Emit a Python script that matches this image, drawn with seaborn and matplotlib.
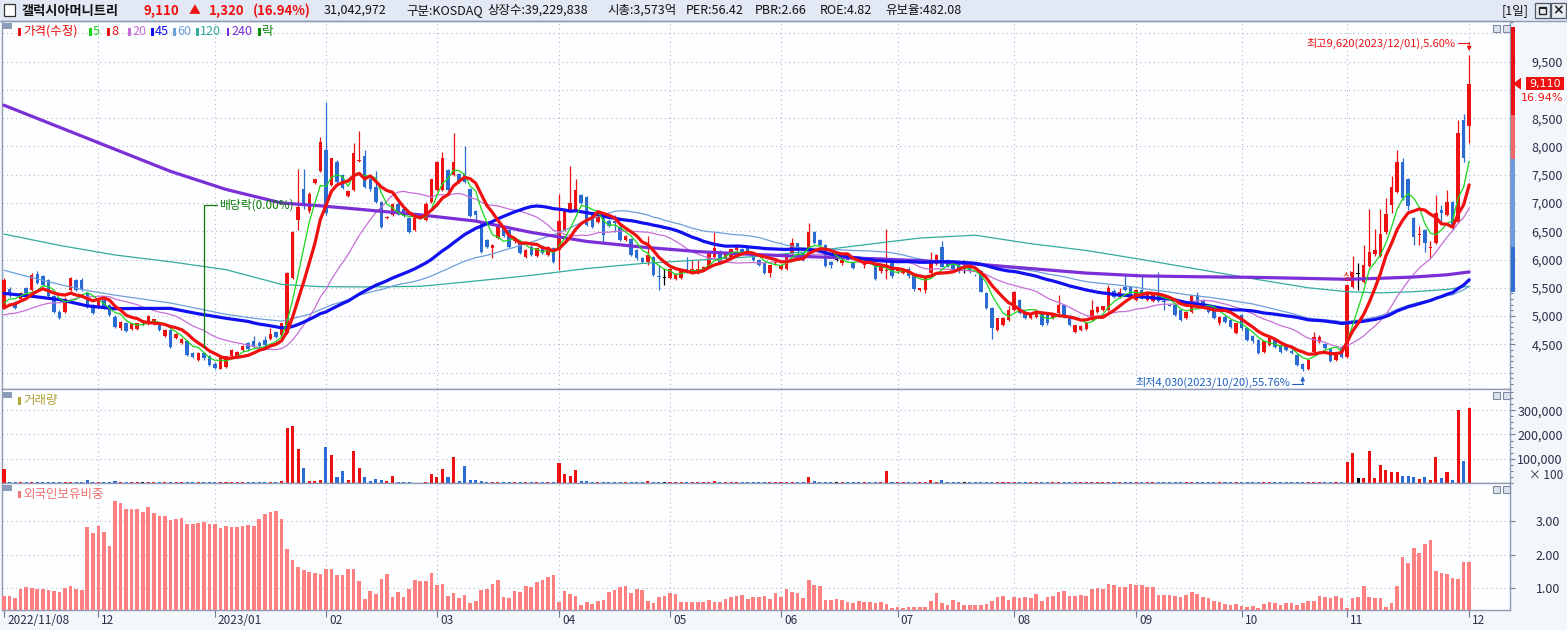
import numpy as np
import pandas as pd
import matplotlib
matplotlib.use("Agg")
import matplotlib.pyplot as plt
from matplotlib.patches import Rectangle, Polygon
from matplotlib.lines import Line2D
from matplotlib.ticker import MultipleLocator
import matplotlib.transforms as mtransforms
import seaborn as sns

# ---------------------------------------------------------------- data
month_idx = [0, 17, 38, 58, 78, 100, 120, 140, 161, 182, 204, 223, 242, 264]
month_labels = ["2022/11/08", "12", "2023/01", "02", "03", "04", "05", "06",
                "07", "08", "09", "10", "11", "12"]

opens = [
    5150, 5480, 5230, 5300, 5490, 5460, 5740, 5700, 5630, 5350,
    5080, 5080, 5460, 5640, 5640, 5400, 5200, 5170, 5280, 5200,
    4990, 4780, 4870, 4770, 4770, 4870, 4870, 4870, 4840, 4650,
    4750, 4620, 4520, 4550, 4350, 4220, 4350, 4290, 4160, 4070,
    4100, 4290, 4280, 4400, 4520, 4550, 4530, 4580, 4590, 4710,
    4660, 4700, 5670, 6700, 7240, 6850, 7360, 7560, 7940, 7320,
    7730, 7500, 7120, 7230, 7740, 7830, 7420, 7290, 7020, 6730,
    6790, 6990, 6900, 6730, 6520, 6730, 6700, 7020, 7230, 7230,
    7580, 7500, 7510, 7520, 7240, 6850, 6650, 6340, 6200, 6380,
    6590, 6520, 6320, 6320, 6050, 6230, 6070, 6240, 6080, 6200,
    6170, 6520, 6880, 6880, 7140, 7110, 6820, 6670, 6800, 6690,
    6690, 6580, 6350, 6360, 6170, 6020, 5960, 6050, 5700, 5670,
    5670, 5650, 5670, 5840, 5760, 5770, 5820, 5870, 6050, 6140,
    6020, 6050, 6170, 6180, 6230, 6110, 5990, 5930, 5770, 5930,
    5840, 5840, 6120, 6290, 6110, 6200, 6490, 6350, 6260, 5960,
    5990, 5930, 6060, 5960, 6050, 5900, 6000, 5900, 5790, 5790,
    5930, 5790, 5770, 5840, 5740, 5460, 5460, 5770, 5920, 6230,
    5990, 5930, 5960, 5870, 5900, 5730, 5790, 5400, 5140, 4750,
    4840, 4930, 5110, 5280, 5080, 4960, 4990, 5050, 5020, 4960,
    5050, 5200, 4990, 4720, 4750, 4770, 4930, 5080, 5110, 5110,
    5450, 5340, 5520, 5520, 5280, 5460, 5280, 5270, 5400, 5270,
    5190, 5200, 5110, 4960, 5080, 5370, 5280, 5200, 5170, 4870,
    4990, 4930, 4700, 5020, 4780, 4640, 4580, 4370, 4490, 4580,
    4490, 4490, 4390, 4310, 4150, 4060, 4370, 4540, 4500, 4420,
    4230, 4460, 4270, 5520, 5740, 5610, 5890, 6100, 6070, 6480,
    6970, 7200, 7720, 7420, 6730, 6430, 6520, 6200, 6290, 6880,
    6790, 7020, 6670, 8470, 8360]

highs = [
    5680, 5520, 5260, 5420, 5520, 5760, 5790, 5720, 5650, 5370,
    5100, 5330, 5690, 5660, 5670, 5420, 5220, 5300, 5300, 5220,
    5010, 4910, 4890, 4880, 4880, 4900, 5020, 4950, 4860, 4770,
    4770, 4700, 4610, 4570, 4370, 4360, 4370, 4310, 4180, 4300,
    4300, 4410, 4380, 4480, 4540, 4650, 4550, 4640, 4780, 4730,
    4880, 5780, 6500, 7600, 7600, 7200, 7430, 8170, 8780, 7800,
    7760, 7520, 7230, 8070, 8270, 7940, 7440, 7560, 7040, 6770,
    7000, 7080, 6920, 6750, 6740, 6800, 7010, 7430, 7740, 7900,
    7600, 8230, 7530, 8000, 7260, 6870, 6670, 6360, 6270, 6590,
    6610, 6540, 6370, 6340, 6180, 6250, 6210, 6260, 6240, 6220,
    7160, 6860, 7650, 7430, 7160, 7130, 6840, 6830, 6820, 6710,
    6790, 6600, 6430, 6380, 6190, 6040, 6420, 6070, 5900, 5850,
    5860, 5760, 5830, 6040, 5990, 5990, 5890, 6150, 6480, 6160,
    6120, 6190, 6280, 6200, 6250, 6130, 6010, 5950, 5910, 6000,
    5910, 6120, 6380, 6300, 6130, 6640, 6510, 6370, 6280, 5980,
    6010, 6010, 6080, 5980, 6070, 6050, 6020, 5920, 5890, 6540,
    5950, 5830, 5830, 5860, 5760, 5500, 5710, 6140, 6090, 6330,
    6010, 5950, 5980, 5990, 5920, 5750, 5810, 5420, 5160, 4970,
    4990, 5170, 5440, 5300, 5100, 5030, 5090, 5070, 5040, 5030,
    5370, 5220, 5010, 4850, 4840, 4890, 5280, 5170, 5180, 5550,
    5470, 5490, 5700, 5540, 5470, 5700, 5410, 5410, 5780, 5370,
    5200, 5220, 5130, 5090, 5380, 5430, 5300, 5220, 5190, 5000,
    5010, 4950, 4880, 5040, 4800, 4660, 4600, 4560, 4620, 4600,
    4510, 4510, 4410, 4330, 4170, 4230, 4710, 4660, 4520, 4440,
    4360, 4490, 5560, 6060, 5940, 6250, 6900, 6540, 6900, 7080,
    7470, 7940, 7790, 7440, 6750, 6600, 6540, 6320, 7150, 6970,
    7230, 7040, 8470, 8570, 9620]

lows = [
    5120, 5330, 5120, 5280, 5380, 5440, 5560, 5530, 5330, 5060,
    4940, 5060, 5440, 5440, 5440, 5150, 5030, 5150, 5120, 5000,
    4790, 4760, 4720, 4750, 4750, 4840, 4850, 4850, 4740, 4630,
    4440, 4600, 4500, 4290, 4250, 4200, 4230, 4110, 4060, 4060,
    4080, 4270, 4260, 4380, 4390, 4440, 4450, 4470, 4570, 4610,
    4640, 4680, 5650, 6520, 6900, 6820, 7340, 7540, 6790, 7300,
    7360, 7240, 7100, 7210, 7720, 7270, 7220, 7000, 6560, 6720,
    6770, 6790, 6750, 6470, 6500, 6710, 6680, 7000, 7210, 7210,
    7210, 7480, 7360, 7360, 6750, 6700, 6110, 6210, 6020, 6360,
    6390, 6210, 6300, 6090, 6030, 6060, 6050, 6100, 6060, 5940,
    5820, 6500, 6860, 6860, 6980, 6590, 6560, 6650, 6290, 6570,
    6490, 6330, 6330, 6060, 6000, 5930, 5910, 5710, 5460, 5550,
    5650, 5630, 5650, 5770, 5740, 5750, 5800, 5850, 6030, 5940,
    6000, 6030, 6150, 6090, 6090, 5970, 5880, 5750, 5690, 5910,
    5820, 5820, 6100, 6080, 5970, 6180, 6270, 6240, 5860, 5850,
    5970, 5910, 5990, 5830, 5980, 5850, 5920, 5630, 5770, 5650,
    5680, 5770, 5750, 5680, 5450, 5440, 5400, 5750, 5900, 5860,
    5860, 5800, 5770, 5760, 5770, 5700, 5420, 5120, 4600, 4730,
    4820, 4910, 5090, 5030, 4940, 4940, 4970, 4820, 4850, 4940,
    5030, 4970, 4820, 4700, 4730, 4750, 4910, 5060, 5090, 5090,
    5320, 5320, 5440, 5370, 5260, 5300, 5260, 5250, 5240, 5110,
    5170, 5000, 4910, 4940, 5060, 5220, 5150, 5060, 4940, 4850,
    4880, 4790, 4680, 4760, 4560, 4530, 4320, 4350, 4470, 4440,
    4350, 4380, 4330, 4110, 4030, 4040, 4350, 4520, 4420, 4190,
    4210, 4250, 4250, 5500, 5460, 5590, 5870, 6060, 6050, 6460,
    6820, 7180, 7060, 6880, 6260, 6260, 6140, 6020, 6270, 6670,
    6770, 6530, 6650, 7720, 8070]

closes = [
    5640, 5400, 5150, 5400, 5400, 5730, 5590, 5550, 5350, 5080,
    4960, 5310, 5670, 5460, 5460, 5170, 5050, 5290, 5140, 5020,
    4810, 4900, 4740, 4870, 4870, 4870, 5000, 4940, 4750, 4760,
    4460, 4690, 4600, 4310, 4270, 4350, 4250, 4130, 4080, 4290,
    4290, 4400, 4370, 4470, 4410, 4460, 4470, 4490, 4690, 4630,
    4870, 5760, 6490, 6930, 6970, 7160, 7420, 8080, 6820, 7790,
    7380, 7260, 7220, 7890, 7760, 7290, 7240, 7020, 6580, 6760,
    6980, 6810, 6770, 6490, 6730, 6790, 6990, 7420, 7730, 7790,
    7230, 7730, 7380, 7380, 6770, 6790, 6130, 6230, 6260, 6580,
    6410, 6230, 6360, 6110, 6170, 6080, 6200, 6120, 6230, 5960,
    6690, 6850, 7000, 7230, 7000, 6610, 6580, 6820, 6430, 6590,
    6640, 6350, 6420, 6080, 6020, 5950, 6080, 5730, 5690, 5670,
    5840, 5740, 5820, 5790, 5840, 5830, 5870, 6140, 6200, 5960,
    6110, 6180, 6230, 6110, 6110, 5990, 5900, 5770, 5900, 5990,
    5900, 6110, 6290, 6170, 5990, 6490, 6290, 6260, 5880, 5900,
    5990, 5990, 6000, 5850, 5990, 5960, 5930, 5650, 5870, 5810,
    5700, 5820, 5820, 5700, 5470, 5490, 5700, 5960, 6080, 5870,
    5870, 5820, 5790, 5870, 5790, 5720, 5430, 5140, 4780, 4960,
    4960, 5110, 5430, 5050, 4960, 5020, 5080, 4840, 4870, 5020,
    5200, 4990, 4840, 4840, 4830, 4870, 5110, 5160, 5170, 5490,
    5340, 5430, 5460, 5390, 5460, 5310, 5400, 5400, 5260, 5240,
    5180, 5020, 4930, 5080, 5370, 5240, 5170, 5080, 4960, 4990,
    4900, 4810, 4870, 4780, 4580, 4550, 4340, 4550, 4610, 4460,
    4370, 4400, 4340, 4130, 4070, 4220, 4630, 4630, 4440, 4210,
    4350, 4280, 5550, 5780, 5740, 5900, 6140, 6170, 6450, 6800,
    7280, 7730, 7080, 6950, 6400, 6460, 6290, 6230, 6820, 6820,
    7020, 6550, 8230, 7790, 9110]

# closes of the 19 sessions before the first visible day (needed for the 5/8/20 averages)
pre_closes = [4980, 4950, 4900, 4880, 4920, 4960, 4940, 4900, 4910, 4950,
              4960, 4982, 4990, 4980, 5015, 5060, 5120, 5150, 5190]

# volume, in thousands of "x100 shares" units
volume_k = [
    58, 4, 3, 4, 3, 5, 4, 3, 4, 5,
    4, 3, 3, 4, 5, 14, 4, 3, 3, 4,
    9, 4, 3, 3, 3, 3, 3, 4, 3, 3,
    4, 3, 3, 4, 3, 3, 4, 4, 3, 4,
    4, 3, 3, 3, 4, 4, 3, 3, 4, 3,
    8, 225, 233, 142, 62, 9, 10, 13, 150, 117,
    25, 51, 13, 133, 62, 25, 9, 17, 13, 9,
    29, 4, 4, 4, 2, 2, 4, 38, 25, 58,
    25, 108, 9, 71, 13, 13, 9, 4, 4, 3,
    4, 3, 3, 4, 3, 3, 4, 3, 3, 4,
    83, 38, 29, 54, 9, 9, 4, 5, 3, 3,
    4, 3, 3, 4, 3, 3, 9, 4, 3, 3,
    3, 3, 3, 4, 3, 3, 3, 5, 9, 3,
    3, 3, 3, 3, 3, 3, 3, 3, 3, 3,
    4, 4, 6, 3, 3, 25, 8, 3, 6, 3,
    3, 3, 3, 3, 3, 3, 3, 3, 3, 50,
    3, 3, 3, 3, 3, 3, 3, 13, 6, 13,
    6, 3, 3, 3, 3, 3, 3, 3, 5, 3,
    3, 3, 3, 3, 3, 3, 3, 3, 3, 3,
    3, 3, 3, 3, 3, 3, 5, 3, 3, 5,
    3, 3, 3, 3, 3, 3, 3, 3, 5, 3,
    3, 3, 3, 3, 4, 3, 3, 3, 3, 3,
    3, 3, 3, 3, 3, 3, 3, 3, 3, 3,
    3, 3, 3, 3, 3, 3, 5, 3, 3, 3,
    3, 3, 87, 125, 21, 21, 133, 21, 75, 54,
    46, 46, 29, 29, 25, 17, 25, 12, 108, 21,
    46, 12, 300, 92, 310]

# foreign ownership ratio (%)
foreign_pct = [
    0.76, 0.76, 0.70, 0.97, 1.03, 1.00, 0.97, 0.97, 0.94, 0.91, 0.88, 1.00, 1.06, 0.97, 0.94,
    2.82, 2.64, 2.85, 2.67, 2.27, 3.61, 3.55, 3.36, 3.36, 3.36, 3.27, 3.42, 3.24, 3.15, 3.15,
    3.03, 3.06, 3.09, 2.91, 2.91, 2.94, 2.97, 2.91, 2.91, 2.79, 2.85, 2.82, 2.82, 2.85, 2.88,
    2.85, 3.06, 3.21, 3.27, 3.30, 3.06, 2.18, 1.85, 1.64, 1.55, 1.48, 1.45, 1.42, 1.58, 1.58,
    1.39, 1.39, 1.58, 1.58, 1.21, 0.67, 0.91, 0.82, 1.27, 1.42, 0.73, 0.88, 0.73, 0.97, 1.24,
    1.21, 1.21, 1.45, 1.09, 1.12, 0.76, 0.85, 0.70, 0.79, 0.55, 0.61, 0.94, 0.97, 1.12, 1.24,
    0.73, 0.70, 0.91, 0.88, 1.06, 1.03, 1.18, 1.24, 1.33, 1.39, 0.58, 0.91, 0.82, 0.76, 0.49,
    0.58, 0.52, 0.61, 0.64, 0.88, 0.94, 1.03, 1.06, 0.85, 0.97, 0.94, 0.61, 0.55, 0.73, 0.76,
    0.85, 0.82, 0.58, 0.58, 0.58, 0.58, 0.58, 0.64, 0.58, 0.58, 0.67, 0.73, 0.76, 0.79, 0.67,
    0.73, 0.73, 0.76, 0.67, 0.85, 0.73, 0.97, 0.88, 0.85, 0.70, 1.24, 1.09, 1.06, 0.64, 0.64,
    0.67, 0.64, 0.58, 0.55, 0.61, 0.58, 0.58, 0.55, 0.58, 0.52, 0.39, 0.42, 0.39, 0.42, 0.42,
    0.42, 0.42, 0.61, 0.85, 0.55, 0.49, 0.64, 0.58, 0.49, 0.49, 0.49, 0.49, 0.52, 0.61, 0.73,
    0.76, 0.64, 0.73, 0.70, 0.73, 0.70, 0.82, 0.61, 0.73, 0.76, 0.88, 0.91, 0.76, 0.76, 0.79,
    0.76, 0.97, 1.00, 0.97, 1.12, 1.09, 1.03, 1.03, 1.12, 1.09, 1.09, 1.03, 1.03, 0.79, 0.79,
    0.79, 0.76, 0.73, 0.79, 0.88, 0.82, 0.73, 0.70, 0.61, 0.58, 0.52, 0.49, 0.52, 0.45, 0.42,
    0.45, 0.39, 0.52, 0.58, 0.55, 0.49, 0.55, 0.55, 0.49, 0.55, 0.61, 0.61, 0.76, 0.73, 0.70,
    0.76, 0.70, 0.39, 0.70, 0.73, 1.06, 0.73, 0.70, 0.70, 0.42, 0.55, 1.06, 1.94, 1.76, 2.21,
    2.06, 2.33, 2.45, 1.52, 1.45, 1.42, 1.30, 1.27, 1.79, 1.79]

# moving averages read off the chart where the visible closes are not enough
ma45_early_idx = [0, 5, 10, 15, 20, 25, 30, 35, 40]
ma45_early = [5400, 5350, 5290, 5180, 5130, 5135, 5135, 5040, 4960]
ma60_early_idx = [0, 5, 10, 15, 20, 25, 30, 35, 40, 45, 50, 55]
ma60_early = [5810, 5680, 5560, 5450, 5370, 5300, 5230, 5130, 5030, 4960, 4910, 5030]
ma_idx = [0, 10, 20, 30, 40, 50, 57, 65, 75, 85, 95, 105, 115, 125, 135,
          145, 155, 165, 175, 185, 195, 205, 215, 225, 235, 242, 248, 254, 260, 264]
ma120 = [6450, 6250, 6080, 5960, 5820, 5560, 5520, 5515, 5525, 5620, 5720, 5840, 5930, 5990, 6050,
         6140, 6260, 6380, 6430, 6280, 6160, 6000, 5830, 5660, 5500, 5430, 5410, 5430, 5470, 5530]
ma240 = [8730, 8340, 7950, 7560, 7240, 7000, 6950, 6880, 6790, 6680, 6480, 6320, 6220, 6140, 6090,
         6050, 6020, 5980, 5920, 5840, 5760, 5710, 5695, 5685, 5665, 5650, 5668, 5690, 5730, 5780]

# price-range bar on the right axis (price boundaries)
range_bar_prices = [5425, 6221, 7778, 8556, 10110]

# ---------------------------------------------------------------- style
sns.set_style("white")
plt.rcParams["font.family"] = ["Noto Sans CJK KR", "DejaVu Sans"]
plt.rcParams["axes.unicode_minus"] = False

RED = "#ee1111"
BLUE = "#2b6cd3"
GRID = "#b3b8c6"
SPINE = "#8d9bb6"
TICK = "#6f7c96"
LBL = "#2a2e48"
C5, C8, C20 = "#19d719", "#f01010", "#c76fd6"
C45, C60, C120, C240 = "#1010f0", "#6f9fd8", "#32ac9c", "#7b2fd6"

W, H = 1567, 630
fig = plt.figure(figsize=(W / 100, H / 100), dpi=100)
fig.patch.set_facecolor("#f3f6fa")


def frect(x0, y0, x1, y1):
    return [x0 / W, 1 - y1 / H, (x1 - x0) / W, (y1 - y0) / H]


def box(x0, y0, x1, y1, **kw):
    r = Rectangle((x0 / W, 1 - y1 / H), (x1 - x0) / W, (y1 - y0) / H,
                  transform=fig.transFigure, **kw)
    fig.add_artist(r)
    return r


def ftext(x, y, s, **kw):
    kw.setdefault("va", "center")
    return fig.text(x / W, 1 - y / H, s, **kw)


ax1 = fig.add_axes(frect(2, 21, 1510, 389))
ax2 = fig.add_axes(frect(2, 389, 1510, 483))
ax3 = fig.add_axes(frect(2, 483, 1510, 610))
XL, XR = -0.36, 271.35
PY = (3709, 10220)
VY = (0, 387500)
FY = (0.333, 4.152)
for ax in (ax1, ax2, ax3):
    ax.set_facecolor("#fdfeff")
    for s in ax.spines.values():
        s.set_color(SPINE)
        s.set_linewidth(1)

gridkw = dict(color=GRID, lw=0.8, ls=(0, (1, 3)), zorder=0.5)
for v in range(4000, 10001, 500):
    ax1.axhline(v, **gridkw)
for v in (100000, 200000, 300000):
    ax2.axhline(v, **gridkw)
for v in (1, 2, 3):
    ax3.axhline(v, **gridkw)
for m in month_idx[1:]:
    for ax in (ax1, ax2, ax3):
        ax.axvline(m, **gridkw)

# ---------------------------------------------------------------- candles
n = len(closes)
idx = np.arange(n)
o, h, l, c = (np.array(a, dtype=float) for a in (opens, highs, lows, closes))
col = np.where(c > o, RED, np.where(c < o, BLUE, "#000000"))
ax1.vlines(idx, l, h, colors=col, linewidth=0.9, zorder=4)
ax1.bar(idx, np.maximum(np.abs(c - o), 14), bottom=np.minimum(o, c), width=0.62,
        color=col, linewidth=0, zorder=4)

# moving averages
full = pd.Series(pre_closes + closes, dtype=float)
k = len(pre_closes)
ma5 = full.rolling(5).mean().iloc[k:].to_numpy()
ma8 = full.rolling(8).mean().iloc[k:].to_numpy()
ma20 = full.rolling(20).mean().iloc[k:].to_numpy()
cs = pd.Series(closes, dtype=float)
r45 = cs.rolling(45).mean()
r60 = cs.rolling(60).mean()
ma45_x = ma45_early_idx + list(range(44, n))
ma45_y = ma45_early + list(r45.iloc[44:])
ma60_x = ma60_early_idx + list(range(59, n))
ma60_y = ma60_early + list(r60.iloc[59:])

sns.lineplot(x=ma_idx, y=ma120, color=C120, linewidth=0.9, ax=ax1, zorder=5, legend=False)
sns.lineplot(x=ma60_x, y=ma60_y, color=C60, linewidth=0.9, ax=ax1, zorder=5, legend=False)
sns.lineplot(x=idx, y=ma20, color=C20, linewidth=0.9, ax=ax1, zorder=5, legend=False)
sns.lineplot(x=ma_idx, y=ma240, color=C240, linewidth=2.3, ax=ax1, zorder=5, legend=False)
sns.lineplot(x=ma45_x, y=ma45_y, color=C45, linewidth=2.3, ax=ax1, zorder=5, legend=False)
sns.lineplot(x=idx, y=ma5, color=C5, linewidth=0.9, ax=ax1, zorder=6, legend=False)
sns.lineplot(x=idx, y=ma8, color=C8, linewidth=2.3, ax=ax1, zorder=6, legend=False)

# volume / foreign ownership
ax2.bar(idx, np.array(volume_k) * 1000, width=0.55, color=col, linewidth=0, zorder=3)
ax3.bar(idx, foreign_pct, width=0.66, color="#ff8080", linewidth=0, zorder=3)

for ax, yl in ((ax1, PY), (ax2, VY), (ax3, FY)):
    ax.set_xlim(XL, XR)
    ax.set_ylim(*yl)

# ---------------------------------------------------------------- axes ticks
for ax in (ax1, ax2, ax3):
    ax.set_xlabel("")
    ax.set_ylabel("")
    ax.yaxis.tick_right()
    ax.tick_params(axis="y", which="both", left=False, labelleft=False,
                   right=True, labelright=True, direction="out", color=TICK, width=0.8)
    ax.tick_params(axis="y", which="major", length=3.6, labelsize=9, labelcolor=LBL)
    ax.tick_params(axis="y", which="minor", length=2.0)
ax1.set_xticks([])
ax2.set_xticks([])

# the 9,000 label sits under the current-price marker, so it is left blank
price_ticks = np.arange(4500, 9501, 500)
ax1.set_yticks(price_ticks)
ax1.set_yticklabels(["" if v == 9000 else f"{v:,}" for v in price_ticks])
ax1.yaxis.set_minor_locator(MultipleLocator(100))
ax1.tick_params(axis="y", which="major", pad=34.5)

ax2.set_yticks([100000, 200000, 300000])
ax2.set_yticklabels(["100,000", "200,000", "300,000"])
ax2.yaxis.set_minor_locator(MultipleLocator(25000))
ax2.tick_params(axis="y", which="major", pad=34.5)

ax3.set_yticks([1, 2, 3])
ax3.set_yticklabels(["1.00", "2.00", "3.00"])
ax3.tick_params(axis="y", which="major", pad=32.5)

for ax in (ax1, ax2, ax3):
    for t in ax.get_yticklabels():
        t.set_ha("right")

ax3.set_xticks(month_idx)
ax3.set_xticklabels([])
ax3.tick_params(axis="x", bottom=True, direction="out", length=5, width=0.8, color=TICK)
xtrans = mtransforms.blended_transform_factory(ax3.transData, fig.transFigure) + \
    mtransforms.ScaledTranslation(3 / 100, 0, fig.dpi_scale_trans)
for m, lab in zip(month_idx, month_labels):
    ax3.text(m, 1 - 621 / H, lab, transform=xtrans, ha="left", va="center",
             fontsize=8.5, color=LBL, clip_on=False)

ftext(1563, 475.5, "× 100", ha="right", fontsize=8.5, color=LBL)

# ---------------------------------------------------------------- annotations
GREEN_D = "#0b7a0b"
ax1.plot([36, 36, 38.3], [4450, 6965, 6965], color=GREEN_D, lw=0.9, zorder=7)
ax1.text(38.8, 6965, "배당락(0.00%)", color=GREEN_D, fontsize=8.5, ha="left", va="center", zorder=7)

hi_i = int(np.argmax(h))
lo_i = int(np.argmin(l))
ax1.text(261.6, 9830, f"최고{int(h[hi_i]):,}(2023/12/01),{(h[hi_i] / c[-1] - 1) * 100:.2f}%",
         color=RED, fontsize=8, ha="right", va="center", zorder=7)
ax1.plot([261.9, hi_i], [9830, 9830], color=RED, lw=0.8, zorder=7)
ax1.annotate("", xy=(hi_i, 9690), xytext=(hi_i, 9835),
             arrowprops=dict(arrowstyle="-|>", color=RED, lw=0.8, mutation_scale=6,
                             shrinkA=0, shrinkB=0), zorder=7)

BLUE_T = "#2060c0"
ax1.text(231.7, 3830, f"최저{int(l[lo_i]):,}(2023/10/20),{(1 - l[lo_i] / c[-1]) * 100:.2f}%",
         color=BLUE_T, fontsize=8, ha="right", va="center", zorder=7)
ax1.plot([232.0, lo_i], [3790, 3790], color=BLUE_T, lw=0.8, zorder=7)
ax1.annotate("", xy=(lo_i, 3935), xytext=(lo_i, 3785),
             arrowprops=dict(arrowstyle="-|>", color=BLUE_T, lw=0.8, mutation_scale=6,
                             shrinkA=0, shrinkB=0), zorder=7)
ax1.text(242, 5600, "상", color=RED, fontsize=7.5, ha="center", va="bottom", zorder=7)

# ---------------------------------------------------------------- title bar
box(0, 0, W, 20.5, facecolor="#e2e9f4", edgecolor="none", zorder=0)
fig.add_artist(Line2D([0, 1], [1 - 20.5 / H] * 2, transform=fig.transFigure, color=SPINE, lw=1))
box(4, 4, 14.5, 16, facecolor="white", edgecolor="#333333", lw=0.9)
ftext(22, 10.5, "갤럭시아머니트리", fontsize=9.5, fontweight="bold", color="#111111")
chg = c[-1] - c[-2]
ftext(144, 10.5, f"{int(c[-1]):,}", fontsize=9.5, fontweight="bold", color=RED)
ftext(189, 10.5, "▲", fontsize=8.5, color=RED)
ftext(209, 10.5, f"{int(chg):,}", fontsize=9.5, fontweight="bold", color=RED)
ftext(253, 10.5, f"({chg / c[-2] * 100:.2f}%)", fontsize=9.5, fontweight="bold", color=RED)
for xx, s in [(324, "31,042,972"), (406, "구분:KOSDAQ"), (487, "상장수:39,229,838"),
              (607, "시총:3,573억"), (686, "PER:56.42"), (755, "PBR:2.66"),
              (820, "ROE:4.82"), (885, "유보율:482.08")]:
    ftext(xx, 10.5, s, fontsize=9, color="#111111")
ftext(1515, 11, "[1일]", ha="center", fontsize=9, color="#111111")
box(1535, 3, 1549.5, 17.5, facecolor="#e8ecf2", edgecolor="#50596a", lw=0.9)
box(1538.5, 6.5, 1546, 13.5, facecolor="none", edgecolor="#222222", lw=1)
box(1538.5, 6.5, 1546, 8.5, facecolor="#222222", edgecolor="none")
box(1551, 3, 1565.5, 17.5, facecolor="#e8ecf2", edgecolor="#50596a", lw=0.9)
ftext(1558.2, 10.3, "×", ha="center", fontsize=10, fontweight="bold", color="#222222",
      family="DejaVu Sans")

# legends
ICON = "#8c9bb8"
box(3, 23, 12.5, 29, facecolor=ICON, edgecolor="none")
for xm, xt, s, cl in [(18, 23, "가격(수정)", RED), (89, 93, "5", C5), (107, 111, "8", C8),
                      (128, 132, "20", C20), (151, 155, "45", C45), (173, 177, "60", C60),
                      (196, 200, "120", C120), (227, 231, "240", C240), (258, 262, "락", "#0a8a0a")]:
    box(xm, 28, xm + 2.5, 36, facecolor=cl, edgecolor="none")
    ftext(xt, 31.5, s, color=cl, fontsize=9)
box(3, 391.5, 12.5, 397.5, facecolor=ICON, edgecolor="none")
box(17.5, 397, 20.5, 404.5, facecolor="#b8a638", edgecolor="none")
ftext(23, 400.5, "거래량", color="#b3a436", fontsize=9)
box(3, 485, 12.5, 491, facecolor=ICON, edgecolor="none")
box(17.5, 491, 20.5, 498, facecolor="#f07878", edgecolor="none")
ftext(23, 494.5, "외국인보유비중", color="#f07070", fontsize=9)

for y0 in (25, 392, 486):
    box(1493, y0, 1500, y0 + 7, facecolor="#dde3ec", edgecolor="#7c89a3", lw=0.8)
    box(1502.5, y0, 1509.5, y0 + 7, facecolor="#dde3ec", edgecolor="#7c89a3", lw=0.8)

# right price-range bar
tb = mtransforms.blended_transform_factory(fig.transFigure, ax1.transData)
for lo, hi, cl in zip(range_bar_prices[:-1], range_bar_prices[1:],
                      ["#2f6ed0", "#6c9ce0", "#f06868", "#e81010"]):
    fig.add_artist(Rectangle((1510.5 / W, lo), 4 / W, hi - lo, transform=tb,
                             facecolor=cl, edgecolor="none", zorder=10))

# current price marker
yc = ax1.transData.transform((0, c[-1]))[1]
fig.add_artist(Rectangle((1526 / W, (yc - 6.5) / H), 37.5 / W, 13 / H, transform=fig.transFigure,
                         facecolor=RED, edgecolor="none", zorder=10))
fig.add_artist(Polygon([(1513 / W, yc / H), (1521 / W, (yc + 6) / H), (1521 / W, (yc - 6) / H)],
                       closed=True, transform=fig.transFigure, facecolor=RED,
                       edgecolor="none", zorder=10))
fig.text(1544.7 / W, yc / H, f"{int(c[-1]):,}", color="white", fontsize=8,
         family="DejaVu Sans", ha="center", va="center", zorder=11)
fig.add_artist(Rectangle((1526 / W, (yc - 20) / H), 37.5 / W, 13 / H, transform=fig.transFigure,
                         facecolor="white", edgecolor="none", zorder=10))
fig.text(1563 / W, (yc - 14) / H, f"{chg / c[-2] * 100:.2f}%", color=RED, fontsize=8,
         family="DejaVu Sans", ha="right", va="center", zorder=11)

fig.savefig("out.png", dpi=100, facecolor=fig.get_facecolor())
